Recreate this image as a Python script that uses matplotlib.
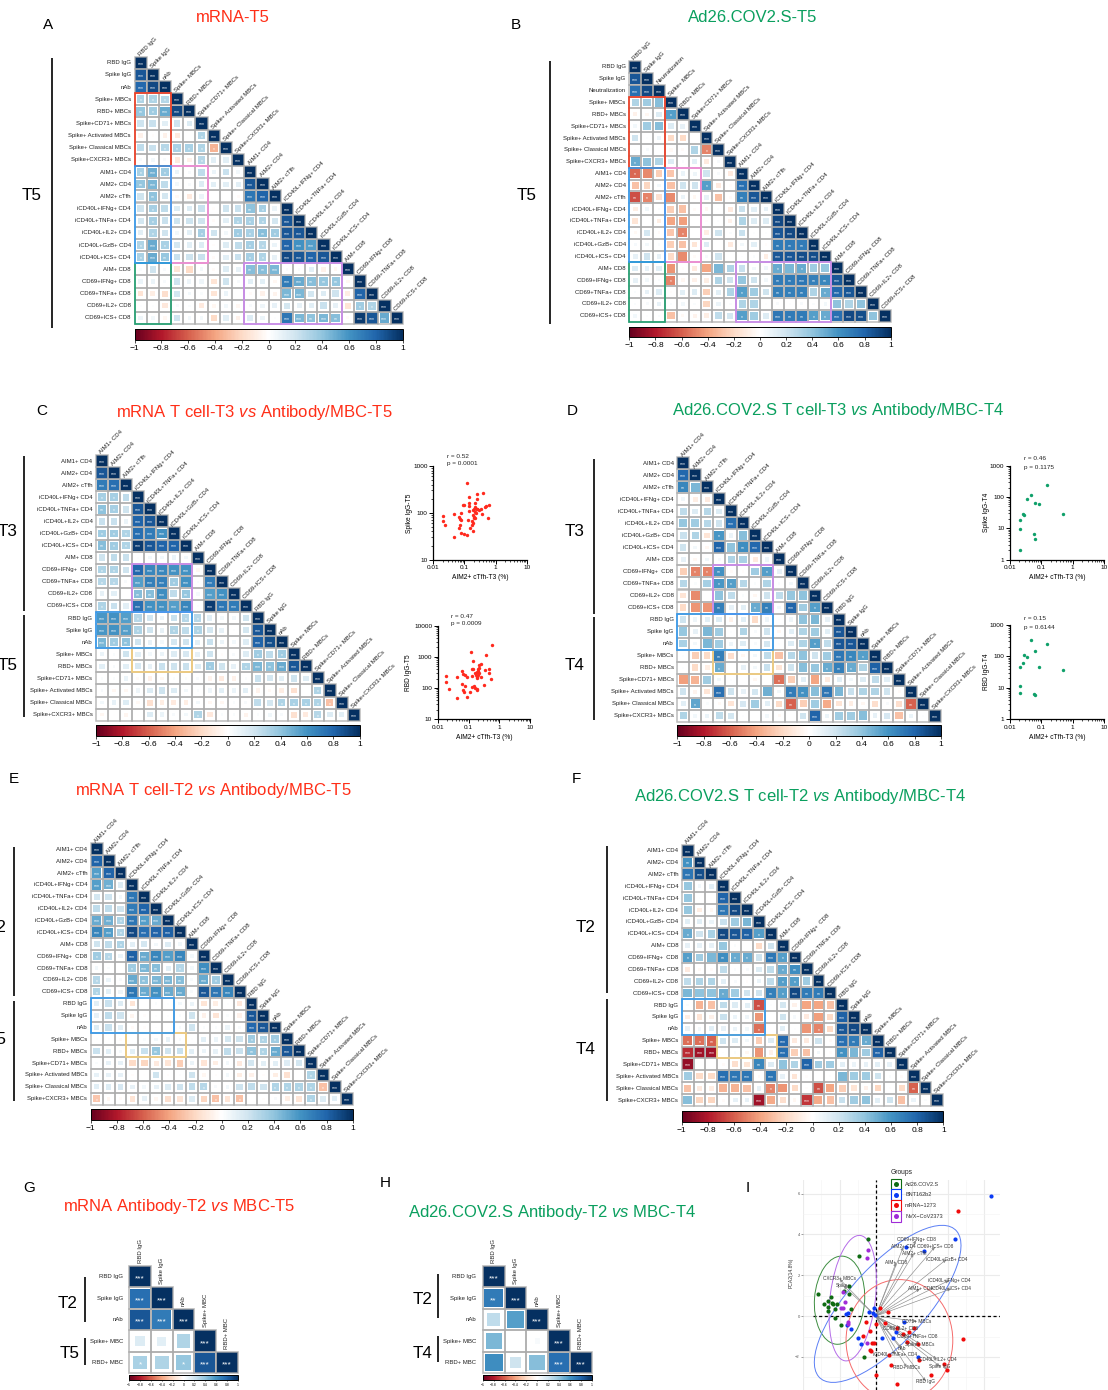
import matplotlib
matplotlib.use('Agg')
import numpy as np
import matplotlib.pyplot as plt
from matplotlib.colors import LinearSegmentedColormap, Normalize
from matplotlib.cm import ScalarMappable
from matplotlib.patches import Rectangle, Ellipse

plt.rcParams['font.family'] = ['Liberation Sans', 'DejaVu Sans']
plt.rcParams['mathtext.fontset'] = 'custom'
plt.rcParams['mathtext.it'] = 'Liberation Sans:italic'
plt.rcParams['mathtext.rm'] = 'Liberation Sans'

W, H = 1108, 1390

# labels
labels_ab = ['RBD IgG', 'Spike IgG', 'nAb', 'Spike+ MBCs', 'RBD+ MBCs', 'Spike+CD71+ MBCs',
             'Spike+ Activated MBCs', 'Spike+ Classical MBCs', 'Spike+CXCR3+ MBCs',
             'AIM1+ CD4', 'AIM2+ CD4', 'AIM2+ cTfh', 'iCD40L+IFNg+ CD4', 'iCD40L+TNFa+ CD4',
             'iCD40L+IL2+ CD4', 'iCD40L+GzB+ CD4', 'iCD40L+ICS+ CD4', 'AIM+ CD8',
             'CD69+IFNg+ CD8', 'CD69+TNFa+ CD8', 'CD69+IL2+ CD8', 'CD69+ICS+ CD8']
labels_b = labels_ab[:2] + ['Neutralization'] + labels_ab[3:]
labels_cdef = ['AIM1+ CD4', 'AIM2+ CD4', 'AIM2+ cTfh', 'iCD40L+IFNg+ CD4', 'iCD40L+TNFa+ CD4',
               'iCD40L+IL2+ CD4', 'iCD40L+GzB+ CD4', 'iCD40L+ICS+ CD4', 'AIM+ CD8',
               'CD69+IFNg+  CD8', 'CD69+TNFa+ CD8', 'CD69+IL2+ CD8', 'CD69+ICS+ CD8',
               'RBD IgG', 'Spike IgG', 'nAb', 'Spike+ MBCs', 'RBD+ MBCs', 'Spike+CD71+ MBCs',
               'Spike+ Activated MBCs', 'Spike+ Classical MBCs', 'Spike+CXCR3+ MBCs']
labels_gh = ['RBD IgG', 'Spike IgG', 'nAb', 'Spike+ MBC', 'RBD+ MBC']

# correlation values, lower triangle
vals_a = [
    [1],
    [.85, 1],
    [.78, .9, 1],
    [.3, .3, .28, 1],
    [.38, .35, .5, .9, 1],
    [.2, .22, .12, .2, .15, 1],
    [-.08, -.02, -.08, -.12, 0, .3, 1],
    [.25, .22, .28, .32, .32, .3, -.35, 1],
    [.03, .05, .03, -.12, -.08, .28, .12, .12, 1],
    [.32, .48, .35, .08, .03, .25, .08, .22, .05, 1],
    [.38, .45, .25, .05, .03, .15, .12, .13, .12, .85, 1],
    [.2, .4, .18, -.04, -.12, .08, 0, 0, -.03, .72, .8, 1],
    [.2, .33, .25, .15, .15, .22, -.02, .2, .22, .4, .33, .08, 1],
    [.18, .33, .22, .2, .2, .2, -.03, .13, .3, .32, .3, .18, .85, 1],
    [.12, .3, .2, .05, .12, .33, .2, .05, .35, .32, .42, .35, .85, .85, 1],
    [.3, .5, .32, .18, .12, .15, -.02, .15, .25, .33, .28, .08, .8, .6, .55, 1],
    [.32, .5, .38, .22, .2, .22, -.03, .12, .22, .33, .3, .1, .9, .85, .8, .85, 1],
    [.02, .2, .03, -.15, -.2, .05, -.03, .15, .1, .42, .42, .45, .02, .02, .12, -.08, -.05, 1],
    [.08, .08, .03, .2, .07, .07, -.15, .2, .03, .12, .12, -.05, .7, .5, .42, .38, .38, -.05, 1],
    [-.15, -.1, -.18, .18, .05, .02, -.15, .08, 0, -.03, -.08, -.07, .45, .45, .18, .15, .2, -.1, .8, 1],
    [.01, .01, -.13, .03, .02, -.12, -.05, .05, -.05, .03, .07, .1, .18, .1, .12, .22, .1, -.15, .35, .3, 1],
    [.07, .05, -.05, .2, .05, .05, -.2, .12, -.08, .15, .08, .01, .72, .45, .4, .45, .42, -.03, .95, .85, .5, 1],
]
vals_b = [
    [1],
    [.85, 1],
    [.75, .9, 1],
    [.3, .35, .42, 1],
    [-.08, -.05, .15, .55, 1],
    [.05, .35, .42, .15, .1, 1],
    [.2, .01, .07, -.2, -.2, 0, 1],
    [.01, .03, 0, -.04, -.03, .3, -.5, 1],
    [.5, .4, .3, .15, .02, .12, -.12, .03, 1],
    [-.58, -.48, -.25, -.28, .08, .07, .2, .03, -.12, 1],
    [-.3, -.22, .05, -.3, .2, .2, .55, -.12, -.02, .75, 1],
    [-.65, -.5, -.17, -.48, .08, -.05, .1, -.3, -.03, .68, .85, 1],
    [-.1, .06, .02, -.25, -.3, -.03, -.05, .01, -.12, .22, .13, .1, 1],
    [-.15, 0, -.1, -.4, -.42, 0, -.02, .01, -.08, .3, .15, .15, .9, 1],
    [-.04, .18, -.03, -.28, -.5, 0, -.1, .2, .02, .22, .01, .01, .85, .9, 1],
    [.04, .05, .02, -.25, -.3, -.15, .15, 0, -.12, .05, .13, -.02, .7, .7, .7, 1],
    [.1, .2, .1, -.2, -.48, -.03, .03, .2, 0, .01, .02, -.1, .85, .85, .88, .88, 1],
    [.15, .1, .12, -.45, -.02, -.12, -.4, .45, .3, .22, .05, .06, .5, .45, .5, .35, .38, 1],
    [.1, .05, .02, -.5, -.05, -.08, -.1, .3, .2, .38, .2, .05, .7, .7, .72, .68, .65, .85, 1],
    [.02, .1, .15, -.02, .12, .15, -.25, .12, .3, .55, .35, .2, .68, .68, .68, .3, .5, .78, .85, 1],
    [.02, .03, .1, .02, .05, .02, -.22, .08, .02, .3, .3, .01, .03, .01, .03, .02, .05, .4, .3, .4, 1],
    [.05, .01, .02, -.3, -.04, -.07, -.1, .25, .18, .55, .35, .15, .72, .7, .7, .55, .5, .75, .9, .88, .4, 1],
]
vals_c = [
    [1],
    [.85, 1],
    [.7, .75, 1],
    [.33, .33, .25, 1],
    [.4, .33, .2, .85, 1],
    [.22, .22, .08, .8, .85, 1],
    [.35, .35, .3, .75, .7, .6, 1],
    [.42, .35, .3, .95, .85, .8, .8, 1],
    [.2, .25, .22, .01, .05, .05, .08, .05, 1],
    [.3, .3, .2, .78, .65, .65, .6, .6, -.05, 1],
    [.28, .28, .03, .55, .68, .68, .35, .6, .02, .7, 1],
    [.1, .12, 0, .42, .42, .62, .25, .38, .04, .55, .6, 1],
    [.3, .22, .12, .75, .6, .6, .55, .65, .01, .95, .72, .7, 1],
    [.58, .6, .55, .28, .18, .08, .22, .28, .28, .12, .05, .05, .2, 1],
    [.58, .6, .55, .3, .2, .1, .3, .25, .3, .18, .1, .01, .18, .85, 1],
    [.45, .35, .4, .2, .1, .05, .18, .2, .12, .22, .08, .05, .15, .8, .88, 1],
    [.08, .02, .2, .12, .05, .08, .15, .17, .1, .2, -.02, .03, .15, .35, .25, .35, 1],
    [.12, .03, .13, .17, .1, .22, .2, .22, .15, .35, .2, .1, .3, .45, .4, .5, .85, 1],
    [.02, .02, .08, -.03, -.08, -.05, .02, .02, .03, -.07, -.12, -.08, .02, .22, .18, .12, .2, .15, 1],
    [.03, -.05, -.05, .07, .15, .2, .15, .05, .02, .07, .12, .08, .12, -.07, -.04, -.1, -.17, 0, .3, 1],
    [.05, .1, .15, -.04, -.17, -.1, -.12, -.1, .05, -.05, -.05, .02, .03, .25, .18, .3, .32, .32, .3, -.3, 1],
    [-.05, -.01, -.06, -.01, .15, .08, .03, .05, .3, -.13, .02, .02, -.07, .02, .06, .03, -.17, -.12, .28, .15, .12, 1],
]
vals_d = [
    [1],
    [.78, 1],
    [.65, .45, 1],
    [.06, -.1, -.12, 1],
    [.25, .15, .28, .15, 1],
    [.38, .35, .28, .2, .75, 1],
    [.22, .3, -.15, .58, .08, .42, 1],
    [.2, .05, -.05, .8, .4, .62, .78, 1],
    [.1, -.05, .06, .03, .3, .32, -.12, .07, 1],
    [-.25, -.5, -.5, .6, -.03, -.02, .35, .55, .1, 1],
    [.28, .02, .33, .58, .55, .28, .02, .3, .02, .05, 1],
    [-.15, -.48, 0, .4, .25, .02, -.05, .2, .25, .38, .4, 1],
    [-.2, -.45, -.45, .68, .1, .12, .5, .68, .05, .8, .35, .55, 1],
    [.2, .07, .12, .15, -.08, .12, -.2, .07, .01, .07, .4, .45, .1, 1],
    [.38, .1, .45, .35, .01, .3, .03, .2, -.05, .12, .3, .35, .12, .85, 1],
    [.32, .05, .45, .35, .07, .15, .03, .18, .01, .15, .3, .55, .25, .85, .85, 1],
    [.01, -.25, -.2, .68, -.18, -.05, .05, .25, -.3, .28, .4, .2, .35, .72, .65, .55, 1],
    [.01, -.2, -.1, .5, 0, .1, .05, .22, -.15, .2, .42, .38, .5, .68, .5, .3, .82, 1],
    [-.42, -.35, .35, .05, .01, 0, -.05, 0, -.55, -.25, .12, -.4, -.12, .12, .05, .15, .25, .12, 1],
    [.2, -.07, -.15, .75, .2, .1, .18, .48, .05, .7, .6, .42, .72, .45, .22, .3, .3, .2, -.03, 1],
    [.12, .52, .02, -.04, -.15, .17, .35, .12, -.2, -.6, -.25, .35, -.38, -.15, -.1, -.05, -.18, .03, -.18, -.6, 1],
    [.3, .05, .08, .25, .18, .01, 0, .05, -.04, 0, .2, .8, .08, .35, .35, .42, .1, .17, -.3, .08, .01, 1],
]
vals_e = [
    [1],
    [.8, 1],
    [.55, .8, 1],
    [.55, .48, .15, 1],
    [.18, .2, .05, .72, 1],
    [.25, .25, .2, .7, .8, 1],
    [.5, .48, .3, .72, .55, .5, 1],
    [.65, .55, .3, .9, .75, .8, .82, 1],
    [.2, .25, .3, .13, .18, .05, .15, .06, 1],
    [.35, .28, .08, .82, .5, .65, .55, .65, .05, 1],
    [.05, .02, 0, .35, .45, .42, .12, .28, .05, .62, 1],
    [.28, .08, .03, .5, .4, .45, .45, .42, .03, .5, .35, 1],
    [.3, .12, .07, .72, .5, .6, .5, .5, .03, .85, .72, .65, 1],
    [.12, .22, .15, -.15, 0, .02, .01, .05, .08, -.15, -.1, .01, -.13, 1],
    [.1, .25, .2, -.06, -.02, .01, .01, .02, .2, -.08, -.15, .02, -.08, .85, 1],
    [.15, .22, .13, -.03, -.02, .01, -.01, .03, .2, .02, .02, .08, .03, .78, .85, 1],
    [.01, .01, -.03, 0, .02, .05, .1, .03, .01, .12, .08, .18, .2, .35, .3, .35, 1],
    [.22, .12, .04, .12, .22, .38, .2, .22, .12, .08, .1, .25, .22, .4, .3, .5, .85, 1],
    [.02, .1, .1, -.2, -.22, -.12, -.15, -.25, .08, -.15, -.1, .05, -.12, .18, .12, .12, .15, .18, 1],
    [.1, .1, .1, -.02, -.01, .2, -.02, .01, .2, -.05, -.02, .05, -.1, -.08, -.02, -.1, -.17, 0, .3, 1],
    [.12, .15, .17, .1, .05, .1, .15, .2, .25, .28, .03, .05, .2, .25, .2, .3, .3, .3, .3, -.3, 1],
    [-.28, -.05, -.03, -.15, .1, -.05, -.18, -.15, .15, -.22, -.3, -.15, -.3, -.01, -.02, .03, -.1, -.15, .3, .15, .12, 1],
]
vals_f = [
    [1],
    [.6, 1],
    [.72, .88, 1],
    [.38, .05, .12, 1],
    [.38, .01, -.01, .8, 1],
    [.38, -.1, -.05, .72, .9, 1],
    [.12, .12, .08, .22, .35, .45, 1],
    [.5, .2, .32, .9, .85, .82, .55, 1],
    [.1, .1, .1, .38, .02, 0, -.2, .2, 1],
    [.55, .35, .45, .62, .5, .5, .2, .72, .55, 1],
    [-.12, -.04, -.03, .25, .02, .03, .15, .25, .5, .62, 1],
    [.25, .3, .3, .12, .03, -.02, .08, .25, .55, .55, .35, 1],
    [.45, .4, .4, .5, .35, .2, .2, .68, .55, .9, .7, .7, 1],
    [.02, -.35, -.3, .25, .15, .12, -.65, .01, .18, -.08, -.4, -.4, -.3, 1],
    [-.1, -.15, -.08, .22, .08, .07, -.45, 0, .2, .04, -.12, -.42, -.2, .82, 1],
    [.1, .05, .12, .1, .08, .06, -.55, -.01, .12, .01, -.45, -.5, -.2, .85, .9, 1],
    [-.55, -.55, -.6, .2, .15, .05, -.25, .15, .78, -.12, -.12, .2, -.03, .75, .7, .5, 1],
    [-.75, -.85, -.85, .01, .02, -.05, -.45, -.08, .75, -.25, -.3, .05, -.02, .6, .45, .35, .8, 1],
    [-.88, 0, 0, -.03, -.18, -.15, .65, .15, .4, .3, .8, .35, .35, .12, .08, .1, .12, .1, 1],
    [.35, -.2, -.2, .75, .72, .72, -.03, .72, .1, -.15, -.02, 0, .01, .45, .35, .35, .2, .02, -.03, 1],
    [-.3, -.12, -.1, -.35, -.35, -.3, .1, -.5, -.45, -.2, -.02, -.65, -.4, -.25, -.15, -.08, -.22, -.02, -.2, -.6, 1],
    [.42, -.22, -.22, -.03, .1, .1, -.85, -.38, -.18, -.05, -.72, -.38, -.3, .22, .35, .4, .12, .2, -.3, .08, .02, 1],
]
vals_g = [[1], [.75, 1], [.85, .7, 1], [.15, .12, .3, 1], [.32, .3, .38, .85, 1]]
vals_h = [[1], [.7, 1], [.25, .55, 1], [.45, 0, .03, 1], [.62, .2, .42, .75, 1]]

# scatter data
c1_x = [.124, .144, .247, .385, .247, .144, .224, .0877, .046, .021, .0205, .0243, .0686, .072, .079, .079,
        .0968, .14, .144, .13, .184, .203, .213, .247, .219, .23, .26, .193, .287, .341, .367, .47, .493,
        .601, .558, .072, .065, .151, .175, .193, .193, .0757, .0944, .121, .046, .203, .219, .171, .208]
c1_y = [441, 221, 248, 265, 194, 165, 162, 145, 96, 85.5, 67, 55, 83, 75, 69, 100,
        145, 108, 140, 70, 90, 80, 76, 121, 106, 100, 119, 115, 115, 119, 94, 135.5, 142,
        147, 78, 55, 47, 48, 54, 60, 40, 38, 35, 34, 30, 119, 135.5, 68, 78]
c2_x = [.574, .376, .117, .139, .136, .129, .247, .218, .183, .207, .223, .197, .349, .459, .448, .533, .324,
        .063, .0678, .0767, .0191, .0191, .0227, .0433, .089, .1324, .0598, .0748, .0661, .0711, .0423, .089,
        .114, .129, .15, .158, .183, .187, .162, .174, .192, .187, .207, .247, .223]
c2_y = [2455, 1143, 1462, 715, 405, 395, 602, 545, 324, 349, 448, 405, 367, 395, 301, 193, 121,
        358, 273, 266, 241, 158, 94, 230, 230, 241, 137, 118, 84, 76, 46, 51,
        74, 110, 118, 102, 94, 85.5, 294, 260, 203, 230, 260, 219, 294]
d1_x = [.15, .0476, .0348, .0608, .0857, .0259, .0286, .485, .0213, .0213, .0566, .0608, .0213]
d1_y = [242, 113, 84, 64, 58, 28.7, 26, 28.7, 18.4, 9.8, 6.8, 4.6, 2.1]
d2_x = [.0476, .15, .0608, .0286, .0348, .0266, .0213, .0857, .485, .0213, .0213, .0566, .0608]
d2_y = [332, 242, 152, 113, 95, 63, 46, 47, 37, 11, 7, 6.3, 5.8]

# PCA points
pca_green_x = [-.42, -.9, -1.48, -1.73, -1.49, -3.17, -2.49, -2.62, -2.44, -2.84, -2.62, -2.34, -2.16, -2.23, -1.35, -2.64, -2.27, -1.9, -.65]
pca_green_y = [3.79, 2.94, 1.5, 1.23, 1.09, 1.08, .92, .72, .64, .6, .47, .59, .59, .34, .36, .26, -.11, -.42, -1.98]
pca_blue_x = [6.37, 4.41, 1.68, 2.69, -.11, -.37, -1.55, -1.62, -.13, -.04, 1.57, -1.59, -1.35, -.96, .37, 1.14, .94, -.81, 2.36]
pca_blue_y = [5.88, 3.76, 3.37, 3.19, .42, .21, .16, .11, .13, .07, -.31, -.42, -.62, -1.05, -1.06, -.77, -1.06, -1.37, -1.98]
pca_red_x = [4.56, 4.83, .24, .7, .04, -.55, .54, 1.16, 2.12, 1.83, 1.53, -.33, -.7, 1.75, 2.34, -.2, -.11, -.31, -.24, .76, 2.4, .87, 0, 3.06, 3.78, 3.93, 1.16]
pca_red_y = [5.13, -1.11, .38, .21, -.38, -.31, -.33, -.56, -.56, -.77, -.9, -.72, -.95, -1.26, -1.37, -1.31, -1.31, -1.67, -1.72, -1.91, -2.14, -2.39, -2.89, -2.88, -2.37, -2.66, -3.35]
pca_purple_x = [-.44, -.5, -1.79, -1.72, -1.9, -1.83, -1.53, -1.53, -.5]
pca_purple_y = [3.24, 2.83, 1.18, .67, .39, .38, -.31, -.38, -1.34]

vec_names = ['CD69+IFNg+ CD8', 'AIM2+ CD4', 'CD69+ICS+ CD8', 'AIM2+ cTfh', 'iCD40L+GzB+ CD4', 'AIM+ CD8',
             'iCD40L+IFNg+ CD4', 'AIM1+ CD4', 'iCD40L+ICS+ CD4', 'CXCR3+ MBCs', 'Spike+', 'CD71+ MBCs',
             'CD69+IL2+ CD8', 'CD69+TNFa+ CD8', 'Spike+ MBCs', 'nAb', 'iCD40L+TNFa+ CD4', 'iCD40L+IL2+ CD4',
             'Spike IgG', 'RBD+ MBCs', 'RBD IgG']
vec_x = [2.23, 1.53, 3.28, 2.1, 3.91, 1.13, 4.06, 2.45, 4.17, -2.01, -1.79, 2.27, 1.35, 2.27, 2.45, 1.44, 1.07, 3.38, 3.56, 1.72, 2.77]
vec_y = [3.73, 3.4, 3.4, 3.07, 2.78, 2.63, 1.75, 1.34, 1.34, 1.83, 1.49, -.25, -.59, -.98, -1.37, -1.57, -1.9, -2.11, -2.47, -2.52, -3.19]

cb_ticks = [-1, -.8, -.6, -.4, -.2, 0, .2, .4, .6, .8, 1]
cb_labels = ['\u22121', '\u22120.8', '\u22120.6', '\u22120.4', '\u22120.2', '0', '0.2', '0.4', '0.6', '0.8', '1']

cmap = LinearSegmentedColormap.from_list('corr', ['#67001F', '#B2182B', '#D6604D', '#F4A582', '#FDDBC7', '#FFFFFF',
                                                  '#D1E5F0', '#92C5DE', '#4393C3', '#2166AC', '#053061'], N=200)
norm = Normalize(-1, 1)

RED = '#FF2E17'
GREEN = '#0A9F5E'
c_red, c_blue, c_green, c_pink, c_purple, c_yellow = '#F03A20', '#3399EE', '#1FA070', '#F58AD8', '#CC88EE', '#F6CF7A'

fig = plt.figure(figsize=(W / 100, H / 100), dpi=100)


def ax_px(l, t, r, b, **kw):
    return fig.add_axes([l / W, 1 - b / H, (r - l) / W, (b - t) / H], **kw)


page = ax_px(0, 0, W, H)
page.set_xlim(0, W)
page.set_ylim(H, 0)
page.axis('off')
page.set_zorder(5)


def corr_panel(box, cbar, labels, vals, cuts, rects=(), fs=4.3, star_fs=3.6, cb_fs=6, top_rot=45, grid_lw=1.1):
    n = len(labels)
    ax = ax_px(*box)
    ax.set_xlim(0, n)
    ax.set_ylim(n, 0)
    ax.axis('off')
    for i, row in enumerate(vals):
        for j, v in enumerate(row):
            ax.add_patch(Rectangle((j, i), 1, 1, fc='white', ec='none', zorder=1))
            side = abs(v) ** .4
            ax.add_patch(Rectangle((j + .5 - side / 2, i + .5 - side / 2), side, side, fc=cmap(norm(v)), ec='none', zorder=2))
            ax.add_patch(Rectangle((j, i), 1, 1, fc='none', ec='#ABABAB', alpha=.8, lw=grid_lw, zorder=3, clip_on=False))
            nstar = sum(abs(v) >= c for c in cuts)
            if nstar:
                ax.text(j + .5, i + .62, '*' * nstar, color='white', fontsize=star_fs, ha='center', va='center', zorder=4)
    for i, lab in enumerate(labels):
        ax.text(-.3, i + .5, lab, fontsize=fs, ha='right', va='center', color='#222222')
        if top_rot == 45:
            ax.text(i + .35, i - .15, lab, fontsize=fs, rotation=45, rotation_mode='anchor', ha='left', va='center', color='#222222')
        else:
            ax.text(i + .5, i - .15, lab, fontsize=fs, rotation=90, ha='center', va='bottom', color='#222222')
    for x0, x1, y0, y1, c in rects:
        ax.add_patch(Rectangle((x0, y0), x1 - x0, y1 - y0, fc='none', ec=c, lw=1.2, zorder=6, clip_on=False))
    cax = ax_px(*cbar)
    cb = fig.colorbar(ScalarMappable(norm=norm, cmap=cmap), cax=cax, orientation='horizontal', ticks=cb_ticks)
    cb.ax.set_xticklabels(cb_labels)
    cb.ax.tick_params(labelsize=cb_fs, length=cb_fs * .4, width=.5, pad=1.5)
    cb.outline.set_linewidth(.7)
    return ax


def scatter_panel(box, x, y, color, ylim, yticks, ylab, ylab_x):
    ax = ax_px(*box)
    ax.scatter(x, y, s=6, color=color, lw=0, zorder=3, clip_on=False)
    ax.set_xscale('log')
    ax.set_yscale('log')
    ax.set_xlim(.01, 10)
    ax.set_ylim(*ylim)
    ax.set_xticks([.01, .1, 1, 10])
    ax.set_xticklabels(['0.01', '0.1', '1', '10'])
    ax.set_yticks(yticks)
    ax.set_yticklabels([str(t) for t in yticks])
    ax.tick_params(which='major', labelsize=4.6, length=3, width=.7, pad=1)
    ax.tick_params(which='minor', length=1.5, width=.5)
    ax.spines['top'].set_visible(False)
    ax.spines['right'].set_visible(False)
    ax.spines['left'].set_linewidth(.9)
    ax.spines['bottom'].set_linewidth(.9)
    ax.patch.set_alpha(0)
    ax.set_xlabel('AIM2+ cTfh-T3 (%)', fontsize=4.8, labelpad=3)
    ax.set_ylabel(ylab, fontsize=4.8)
    ax.yaxis.set_label_coords(ylab_x, .5)
    return ax


# heatmaps
corr_panel((134.5, 56.7, 402.7, 324), (134.5, 329, 402.7, 340), labels_ab, vals_a, (.28, .36, .45),
           [(0, 3, 3, 9, c_red), (3, 6, 9, 17, c_pink), (0, 3, 17, 22, c_green), (9, 17, 17, 22, c_purple), (0, 3, 9, 17, c_blue)])
corr_panel((629.3, 61, 890.7, 321.7), (629.3, 326.7, 890.7, 337), labels_b, vals_b, (.5, .6, .72),
           [(0, 3, 3, 9, c_red), (3, 6, 9, 17, c_pink), (0, 3, 17, 22, c_green), (9, 17, 17, 22, c_purple), (0, 3, 9, 17, c_blue)])
corr_panel((96, 455, 359.7, 720.7), (96, 725, 359.7, 735.7), labels_cdef, vals_c, (.28, .36, .45),
           [(3, 8, 9, 13, c_purple), (3, 8, 16, 18, c_yellow), (0, 8, 13, 16, c_blue)])
corr_panel((677.3, 457.3, 941, 721.7), (677.3, 725, 941, 736), labels_cdef, vals_d, (.5, .6, .72),
           [(3, 8, 9, 13, c_purple), (3, 8, 16, 18, c_yellow), (0, 8, 13, 16, c_blue)])
corr_panel((90.7, 843.3, 352.7, 1104.7), (90.7, 1109, 352.7, 1120), labels_cdef, vals_e, (.28, .36, .45),
           [(3, 8, 16, 18, c_yellow), (0, 7, 13, 16, c_blue)])
corr_panel((681.7, 844.7, 943.3, 1106), (681.7, 1111, 943.3, 1121.7), labels_cdef, vals_f, (.5, .6, .72),
           [(3, 8, 16, 18, c_yellow), (0, 7, 13, 16, c_blue)])
corr_panel((129.3, 1266, 237.7, 1373.3), (129.3, 1375, 237.7, 1380), labels_gh, vals_g, (.32, .5, .6),
           star_fs=6, cb_fs=2.4, top_rot=90, grid_lw=1.2)
corr_panel((482.7, 1266, 591.7, 1373.3), (482.7, 1375, 591.7, 1380), labels_gh, vals_h, (.66, .68, .72),
           star_fs=6, cb_fs=2.4, top_rot=90, grid_lw=1.2)

# scatter panels
scatter_panel((433.3, 466, 526.7, 559.7), c1_x, c1_y, '#FF2A1E', (10, 1000), [10, 100, 1000], 'Spike IgG-T5', -.22)
scatter_panel((437.7, 625.7, 530.3, 719), c2_x, c2_y, '#FF2A1E', (10, 10000), [10, 100, 1000, 10000], 'RBD IgG-T5', -.274)
scatter_panel((1010, 465.7, 1104, 559.7), d1_x, d1_y, '#0FA06A', (1, 1000), [1, 10, 100, 1000], 'Spike IgG-T4', -.213)
scatter_panel((1010, 625, 1104, 719), d2_x, d2_y, '#0FA06A', (1, 1000), [1, 10, 100, 1000], 'RBD IgG-T4', -.213)
for x, y, txt in [(447, 456, 'r = 0.52'), (447, 464, 'p = 0.0001'), (451, 616, 'r = 0.47'), (451, 624, 'p = 0.0009'),
                  (1024, 459, 'r = 0.46'), (1024, 467, 'p = 0.1175'), (1024, 619, 'r = 0.15'), (1024, 627, 'p = 0.6144')]:
    page.text(x, y, txt, fontsize=4.6, ha='left', va='center', color='#222222')

# biplot
bi = ax_px(803, 1180, 1000, 1390)
bi.set_xlim(-4.02, 6.87)
bi.set_ylim(-3.62, 6.67)
bi.set_xticks([-4, -2, 0, 2, 4, 6])
bi.set_xticks([-3, -1, 1, 3, 5], minor=True)
bi.set_yticks([-2, 0, 2, 4, 6])
bi.set_yticks([-3, -1, 1, 3, 5], minor=True)
bi.set_yticklabels(['\u22122', '0', '2', '4', '6'])
bi.set_xticklabels([])
bi.grid(which='major', color='#EBEBEB', lw=.8)
bi.grid(which='minor', color='#F3F3F3', lw=.4)
bi.set_axisbelow(True)
bi.tick_params(which='both', bottom=False)
bi.tick_params(axis='y', which='major', labelsize=3, length=1.5, width=.4, pad=.8, color='#555555', labelcolor='#555555')
bi.tick_params(axis='y', which='minor', left=False)
for s in bi.spines.values():
    s.set_visible(False)
bi.patch.set_alpha(0)
bi.set_ylabel('PCA2(14.8%)', fontsize=3.6, color='#333333')
bi.yaxis.set_label_coords(-.046, .56)
bi.hlines(0, -3.45, 6.87, color='black', lw=.9, ls=(0, (2.5, 2)))
bi.axvline(0, color='black', lw=.9, ls=(0, (2.5, 2)))
for xy, w_, h_, ang, col in [((-2.0, .78), 2.77, 4.33, -5, '#3E8E41'), ((.66, .6), 10.44, 4.0, 43, '#5B7FF5'),
                             ((-1.27, .88), 2.5, 6.2, -8, '#B56CE8'), ((1.31, -1.19), 5.9, 5.96, 0, '#F56B6B')]:
    bi.add_patch(Ellipse(xy, w_, h_, angle=ang, fc='none', ec=col, lw=.7, zorder=2))
for ex, ey, name in zip(vec_x, vec_y, vec_names):
    bi.annotate('', xy=(ex, ey), xytext=(0, 0), arrowprops=dict(arrowstyle='-|>,head_width=.08,head_length=.2', color='#8A8A8A', lw=.45, shrinkA=0, shrinkB=0), zorder=3)
    bi.text(ex, ey, name, fontsize=3.4, ha='center', va='center', color='#333333', zorder=6)
for px, py, col in [(pca_green_x, pca_green_y, '#0E6B12'), (pca_blue_x, pca_blue_y, '#0A3BF5'),
                    (pca_red_x, pca_red_y, '#F00A0A'), (pca_purple_x, pca_purple_y, '#A02BD8')]:
    bi.scatter(px, py, s=9, color=col, lw=0, zorder=4)

page.text(891, 1172.7, 'Groups', fontsize=4.8, ha='left', va='center', color='#222222')
for k, (lab, col, dot) in enumerate([('Ad26.COV2.S', '#0E6B12', '#0E6B12'), ('BNT162b2', '#0A3BF5', '#0A3BF5'),
                                     ('mRNA\u22121273', '#F00A0A', '#F00A0A'), ('NVX\u2212CoV2373', '#A02BD8', '#A02BD8')]):
    y0 = 1178.7 + k * 10.7
    page.add_patch(Rectangle((891, y0), 10, 10.7, fc='white', ec=col, lw=.8))
    page.plot([896], [y0 + 5.35], 'o', ms=3.6, color=dot, mew=0)
    page.text(905, y0 + 5.35, lab, fontsize=4, ha='left', va='center', color='#333333')

# titles, letters, time points
titles = [(233, 18, 'mRNA-T5', RED), (753, 18, 'Ad26.COV2.S-T5', GREEN),
          (254, 412, r'mRNA T cell-T3 $\mathit{vs}$ Antibody/MBC-T5', RED),
          (838, 411, r'Ad26.COV2.S T cell-T3 $\mathit{vs}$ Antibody/MBC-T4', GREEN),
          (213, 791, r'mRNA T cell-T2 $\mathit{vs}$ Antibody/MBC-T5', RED),
          (800, 796, r'Ad26.COV2.S T cell-T2 $\mathit{vs}$ Antibody/MBC-T4', GREEN),
          (179, 1207, r'mRNA Antibody-T2 $\mathit{vs}$ MBC-T5', RED),
          (552, 1212, r'Ad26.COV2.S Antibody-T2 $\mathit{vs}$ MBC-T4', GREEN)]
for x, y, t, c in titles:
    page.text(x, y, t, fontsize=12, color=c, ha='center', va='center')
letters = [(48, 25, 'A'), (516, 25, 'B'), (42, 411, 'C'), (572, 411, 'D'), (14, 779, 'E'), (576, 779, 'F'),
           (29, 1188, 'G'), (385, 1183, 'H'), (748, 1188, 'I')]
for x, y, t in letters:
    page.text(x, y, t, fontsize=11, color='black', ha='center', va='center')
groups = [(32, 196, 'T5', 52, 58, 328), (527, 196, 'T5', 550, 61, 324),
          (8, 532, 'T3', 24, 456, 610.7), (8, 666, 'T5', 24, 615, 717),
          (575, 531, 'T3', 594, 459, 614), (575, 666, 'T4', 594, 617, 720),
          (-3, 927, 'T2', 14, 846.7, 995.7), (-3, 1040, 'T5', 14, 1001, 1100.7),
          (586, 927, 'T2', 606.7, 846, 993), (586, 1050, 'T4', 606.7, 999, 1100.7),
          (68, 1303, 'T2', 85, 1277, 1321.7), (70, 1354, 'T5', 85, 1338, 1365),
          (423, 1300, 'T2', 438.3, 1274, 1318), (422.7, 1353, 'T4', 438.3, 1335.7, 1361.7)]
for x, y, t, bx, y0, y1 in groups:
    page.text(x, y, t, fontsize=12.3, color='black', ha='center', va='center')
    page.plot([bx, bx], [y0, y1], color='black', lw=1.2, solid_capstyle='butt')

fig.savefig('out.png', dpi=100)
